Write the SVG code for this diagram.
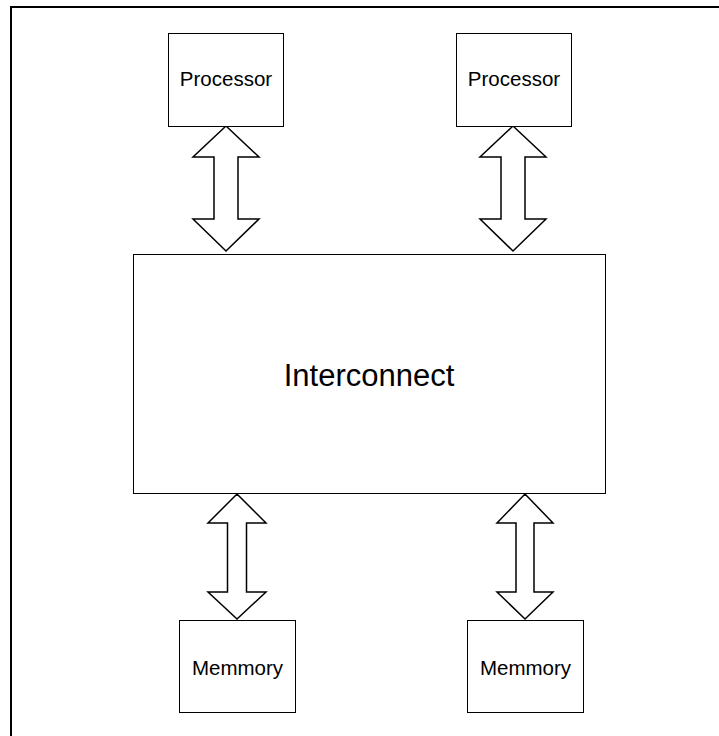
<svg xmlns="http://www.w3.org/2000/svg" width="719" height="736" viewBox="0 0 719 736">
  <style>
    .box { fill: #fff; stroke: #000; stroke-width: 1; }
    .lbl { font-family: "Liberation Sans", Arial, sans-serif; fill: #000; text-anchor: middle; }
    .bus { fill: #fff; stroke: #000; stroke-width: 1.5; stroke-linejoin: miter; }
  </style>
  <rect width="719" height="736" fill="#fff"/>
  <!-- page frame: top and left edges -->
  <path d="M11 736 V7 H719" fill="none" stroke="#000" stroke-width="2"/>

  <g id="connectors">
    <polygon class="bus" points="226,126 259,157 238,157 238,219 259,219 226,251 193,219 214,219 214,157 193,157"/>
    <polygon class="bus" points="513,126 546,157 525,157 525,219 546,219 513,251 480,219 501,219 501,157 480,157"/>
    <polygon class="bus" points="237,494 266,523 246.5,523 246.5,592 266,592 237,619 208,592 227.5,592 227.5,523 208,523"/>
    <polygon class="bus" points="525,494 553,523 534,523 534,592 553,592 525,619 497,592 516,592 516,523 497,523"/>
  </g>

  <g id="processor1">
    <rect class="box" x="168.5" y="33.5" width="115" height="93"/>
    <text class="lbl" x="226" y="86" font-size="20.5">Processor</text>
  </g>
  <g id="processor2">
    <rect class="box" x="456.5" y="33.5" width="115" height="93"/>
    <text class="lbl" x="514" y="86" font-size="20.5">Processor</text>
  </g>
  <g id="interconnect">
    <rect class="box" x="133.5" y="254.5" width="472" height="239"/>
    <text class="lbl" x="369" y="386" font-size="31">Interconnect</text>
  </g>
  <g id="memory1">
    <rect class="box" x="179.5" y="620.5" width="116" height="92"/>
    <text class="lbl" x="237.5" y="675" font-size="20.5">Memmory</text>
  </g>
  <g id="memory2">
    <rect class="box" x="467.5" y="620.5" width="116" height="92"/>
    <text class="lbl" x="525.5" y="675" font-size="20.5">Memmory</text>
  </g>
</svg>
